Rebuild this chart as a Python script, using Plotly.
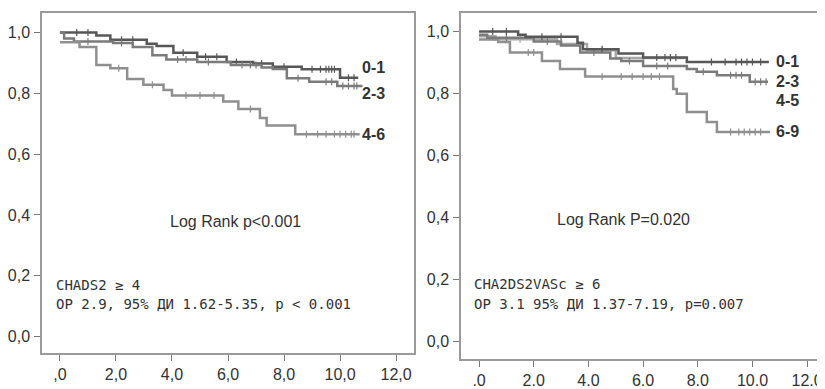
import plotly.graph_objects as go
import numpy as np

# ---------------- data: left panel (CHADS2) ----------------
L01_t = [0.0, 1.3, 1.8, 3.1, 3.45, 4.05, 4.9, 5.95, 6.9, 7.6, 8.63, 10.0, 10.65]
L01_s = [1.0, 0.99, 0.976, 0.963, 0.955, 0.933, 0.92, 0.903, 0.898, 0.887, 0.879, 0.851, 0.851]
L01_c = [0.6, 1.0, 2.2, 2.6, 4.4, 5.2, 5.6, 6.3, 7.2, 8.0, 9.0, 9.3, 9.5, 9.6, 9.7, 9.8, 10.3, 10.5]

L23_t = [0.0, 0.15, 0.5, 1.9, 2.6, 3.3, 3.8, 4.9, 6.1, 7.2, 7.6, 8.1, 8.9, 9.9, 10.8]
L23_s = [1.0, 0.98, 0.97, 0.965, 0.952, 0.925, 0.911, 0.903, 0.893, 0.885, 0.88, 0.849, 0.838, 0.824, 0.824]
L23_c = [1.0, 2.2, 4.2, 4.5, 5.3, 6.5, 6.8, 7.0, 8.5, 9.5, 9.7, 10.1, 10.3, 10.5, 10.6]

L46_t = [0.0, 0.7, 1.3, 1.8, 2.4, 2.98, 3.7, 4.0, 5.83, 6.37, 7.14, 7.38, 8.4, 10.7]
L46_s = [0.968, 0.952, 0.893, 0.882, 0.847, 0.828, 0.811, 0.793, 0.773, 0.748, 0.719, 0.694, 0.665, 0.665]
L46_c = [2.1, 3.3, 4.5, 5.0, 5.5, 6.8, 8.8, 9.2, 9.5, 9.8, 10.0, 10.2, 10.4, 10.5]

# ---------------- data: right panel (CHA2DS2VASc) ----------------
R01_t = [0.0, 1.43, 1.7, 3.6, 3.8, 5.1, 6.0, 7.6, 10.6]
R01_s = [1.0, 0.99, 0.983, 0.964, 0.943, 0.929, 0.916, 0.902, 0.902]
R01_c = [0.5, 1.0, 2.3, 3.0, 4.5, 6.5, 6.8, 7.0, 7.2, 8.5, 9.0, 9.4, 9.6, 9.8, 10.0, 10.3]

R23_t = [0.0, 0.3, 2.0, 3.0, 3.7, 4.8, 5.2, 6.0, 7.6, 7.96, 8.7, 9.9, 10.57]
R23_s = [0.99, 0.98, 0.968, 0.955, 0.932, 0.913, 0.905, 0.889, 0.879, 0.87, 0.859, 0.838, 0.838]
R23_c = [1.0, 2.5, 4.2, 5.5, 6.5, 6.9, 8.2, 9.2, 9.4, 9.6, 10.1, 10.3, 10.5]

R45_t = [0.0, 0.6, 2.85, 3.95, 5.0, 7.5]
R45_s = [0.985, 0.975, 0.96, 0.94, 0.915, 0.915]
R45_c = [1.5, 4.5, 6.0, 7.0]

R69_t = [0.0, 0.7, 1.13, 2.3, 2.96, 3.88, 7.1, 7.23, 7.6, 8.33, 8.7, 10.64]
R69_s = [0.974, 0.966, 0.932, 0.905, 0.879, 0.855, 0.815, 0.799, 0.74, 0.708, 0.676, 0.676]
R69_c = [1.8, 2.0, 4.5, 5.2, 5.6, 6.0, 6.3, 6.6, 9.2, 9.5, 9.7, 9.9, 10.1, 10.3]

y_ticks = [0.0, 0.2, 0.4, 0.6, 0.8, 1.0]
y_ticktext = ["0,0", "0,2", "0,4", "0,6", "0,8", "1,0"]
x_ticks = [0, 2, 4, 6, 8, 10, 12]
x_ticktext_left = [",0", "2,0", "4,0", "6,0", "8,0", "10,0", "12,0"]
x_ticktext_right = [".0", "2.0", "4.0", "6.0", "8.0", "10.0", "12.0"]

left_labels = ["0-1", "2-3", "4-6"]
left_label_y = [0.886, 0.80, 0.665]
right_labels = ["0-1", "2-3", "4-5", "6-9"]
right_label_y = [0.904, 0.84, 0.776, 0.677]

colors = {"0-1": "#575757", "2-3": "#7b7b7b", "4-6": "#8f8f8f", "4-5": "#a8a8a8", "6-9": "#8f8f8f"}

fig = go.Figure()


def step_val(t, s, x):
    idx = np.searchsorted(np.array(t), x, side="right") - 1
    return s[max(idx, 0)]


def add_curve(t, s, c, name, xa, ya):
    col = colors[name]
    fig.add_trace(go.Scatter(x=t, y=s, mode="lines", line=dict(color=col, width=2.5, shape="hv"),
                             xaxis=xa, yaxis=ya, showlegend=False, hoverinfo="skip"))
    cy = [step_val(t, s, x) for x in c]
    fig.add_trace(go.Scatter(x=c, y=cy, mode="markers",
                             marker=dict(symbol="line-ns", size=5, line=dict(color=col, width=1.2)),
                             xaxis=xa, yaxis=ya, showlegend=False, hoverinfo="skip"))


add_curve(L01_t, L01_s, L01_c, "0-1", "x", "y")
add_curve(L23_t, L23_s, L23_c, "2-3", "x", "y")
add_curve(L46_t, L46_s, L46_c, "4-6", "x", "y")
add_curve(R45_t, R45_s, R45_c, "4-5", "x2", "y2")
add_curve(R69_t, R69_s, R69_c, "6-9", "x2", "y2")
add_curve(R23_t, R23_s, R23_c, "2-3", "x2", "y2")
add_curve(R01_t, R01_s, R01_c, "0-1", "x2", "y2")

# the page body has an 8px margin; the figure is sized/positioned to compensate
OFF = 8
W, H = 825 - OFF, 389 - OFF


def px_x(p):
    return (p - OFF) / W


def px_y(p):
    return 1 - (p - OFF) / H


axis_common = dict(showgrid=False, zeroline=False, showline=True, linecolor="#9a9a9a", linewidth=1.5,
                   mirror=True, ticks="outside", ticklen=6, tickcolor="#777777", tickwidth=1,
                   tickfont=dict(family="Liberation Sans, Arial", size=16, color="#333333"))

fig.update_layout(
    width=W, height=H, margin=dict(l=0, r=0, t=0, b=0),
    paper_bgcolor="white", plot_bgcolor="white",
    xaxis=dict(domain=[px_x(42), px_x(414)], range=[-0.64, 12.64], anchor="y",
               tickvals=x_ticks, ticktext=x_ticktext_left, **axis_common),
    yaxis=dict(domain=[px_y(357), px_y(13)], range=[-0.055, 1.064], anchor="x",
               tickvals=y_ticks, ticktext=y_ticktext, ticklabelstandoff=1, **axis_common),
    xaxis2=dict(domain=[px_x(461), px_x(823)], range=[-0.66, 12.58], anchor="y2",
                tickvals=x_ticks, ticktext=x_ticktext_right, **axis_common),
    yaxis2=dict(domain=[px_y(363), px_y(13)], range=[-0.0575, 1.06], anchor="x2",
                tickvals=y_ticks, ticktext=y_ticktext, ticklabelstandoff=1, **axis_common),
)

lab_font = dict(family="Liberation Sans, Arial", size=16, color="#333333", weight="bold")
for name, yv in zip(left_labels, left_label_y):
    fig.add_annotation(x=10.7, y=yv, xref="x", yref="y", text=name, showarrow=False,
                       xanchor="left", yanchor="middle", font=lab_font)
for name, yv in zip(right_labels, right_label_y):
    fig.add_annotation(x=10.8, y=yv, xref="x2", yref="y2", text=name, showarrow=False,
                       xanchor="left", yanchor="middle", font=lab_font)

txt_font = dict(family="Liberation Sans, Arial", size=16, color="#333333")
fig.add_annotation(x=6.25, y=0.379, xref="x", yref="y", text="Log Rank p<0.001", showarrow=False,
                   xanchor="center", yanchor="middle", font=txt_font)
fig.add_annotation(x=5.3, y=0.393, xref="x2", yref="y2", text="Log Rank P=0.020", showarrow=False,
                   xanchor="center", yanchor="middle", font=txt_font)

note_font = dict(family="DejaVu Sans Mono", size=14, color="#333333")
fig.add_annotation(x=-0.2, y=0.171, xref="x", yref="y", text="CHADS2 ≥ 4", showarrow=False,
                   xanchor="left", yanchor="middle", font=note_font)
fig.add_annotation(x=-0.2, y=0.106, xref="x", yref="y", text="ОР 2.9, 95% ДИ 1.62-5.35, р < 0.001",
                   showarrow=False, xanchor="left", yanchor="middle", font=note_font)
fig.add_annotation(x=-0.24, y=0.185, xref="x2", yref="y2", text="CHA2DS2VASc ≥ 6", showarrow=False,
                   xanchor="left", yanchor="middle", font=note_font)
fig.add_annotation(x=-0.24, y=0.122, xref="x2", yref="y2", text="ОР 3.1 95% ДИ 1.37-7.19, р=0.007",
                   showarrow=False, xanchor="left", yanchor="middle", font=note_font)

fig.write_html("out.html")
